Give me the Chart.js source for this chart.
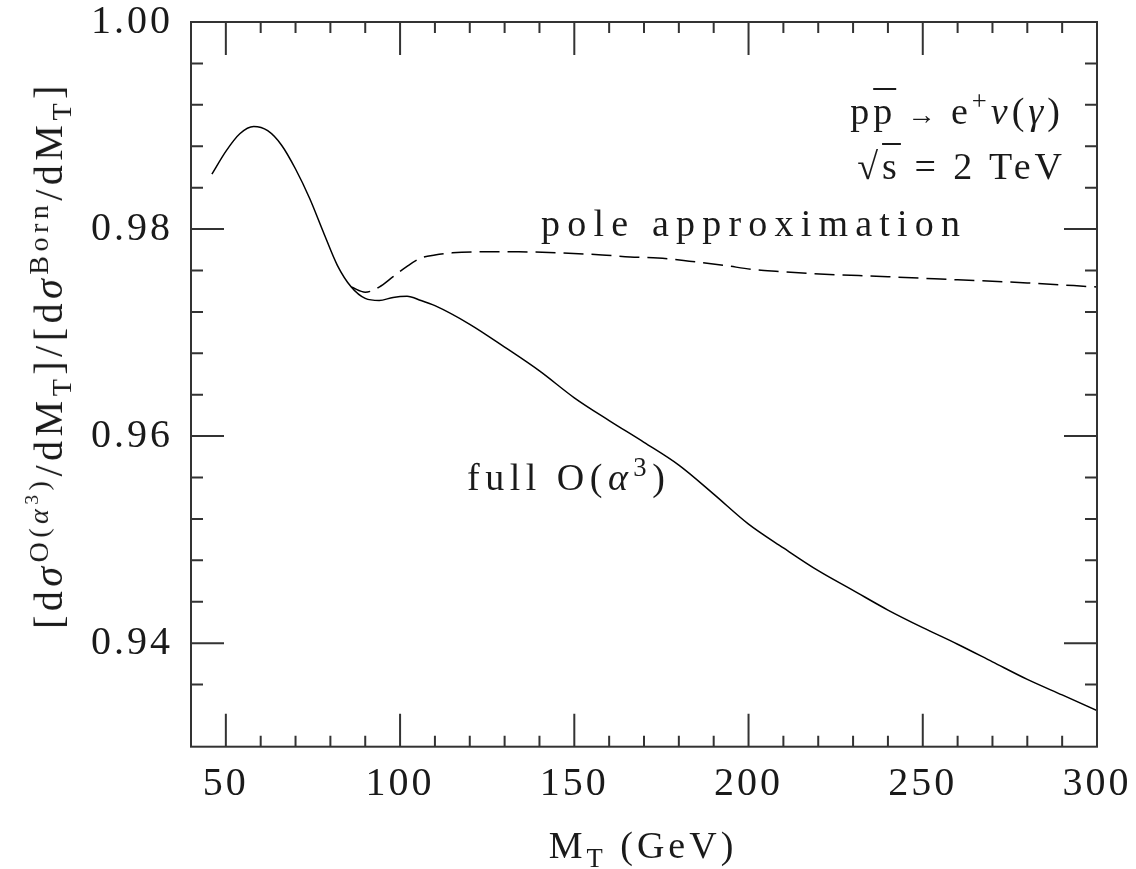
<!DOCTYPE html>
<html>
<head>
<meta charset="utf-8">
<script src="https://cdn.jsdelivr.net/npm/chart.js@4.4.1/dist/chart.umd.min.js"></script>
<style>
  body { margin: 0; background: #fff; }
  #wrap { position: relative; width: 1136px; height: 869px; overflow: hidden; }
  canvas { position: absolute; left: 0; top: 0; }
  .lbl { position: absolute; font-family: "Liberation Serif", serif; color: #1a1a1a; white-space: nowrap; line-height: 1; }
  .lbl sup, .lbl sub { font-size: 0.7em; line-height: 0; }
  .bar { text-decoration: overline; text-decoration-thickness: 1.5px; }
</style>
</head>
<body>
<div id="wrap">
  <canvas id="chart" width="1136" height="869"></canvas>
  <div class="lbl" id="proc" style="right:72px; top:92px; font-size:38px; letter-spacing:4px;">p<span class="bar">p</span><span style="font-size:0.75em"> → </span>e<sup>+</sup><i>ν</i>(<i>γ</i>)</div>
  <div class="lbl" id="energy" style="right:70px; top:147px; font-size:38px; letter-spacing:4px;">√<span class="bar">s</span> = 2 TeV</div>
  <div class="lbl" id="pole" style="left:541px; top:204px; font-size:38px; letter-spacing:7.2px;">pole approximation</div>
  <div class="lbl" id="full" style="left:467px; top:458px; font-size:38px; letter-spacing:5.5px;">full O(<i>α</i><sup>3</sup>)</div>
  <div class="lbl" id="xtitle" style="left:643px; top:845px; font-size:38px; letter-spacing:4px; transform:translate(-50%,-50%);">M<sub>T</sub> (GeV)</div>
  <div class="lbl" id="ytitle" style="left:49px; top:355px; font-size:40px; letter-spacing:4.5px; transform:translate(-50%,-50%) rotate(-90deg);">[d<i>σ</i><sup>O(<i>α</i><sup>3</sup>)</sup>/dM<sub>T</sub>]/[d<i>σ</i><sup>Born</sup>/dM<sub>T</sub>]</div>
</div>
<script>
// ratio of O(alpha^3) to Born transverse mass distribution
const mtFull = [46, 50, 54, 58, 62, 66, 70, 74, 78, 82, 86, 90, 94, 98, 102, 106, 110,
  120, 130, 140, 150, 160, 170, 180, 190, 200, 210, 220, 230, 240, 250, 260, 270, 280, 290, 300];
const ratioFull = [0.9853, 0.9875, 0.9892, 0.9899, 0.9895, 0.9881, 0.9858, 0.9830, 0.9797,
  0.9765, 0.9744, 0.9733, 0.9731, 0.9734, 0.9735, 0.9731, 0.9726,
  0.9708, 0.9686, 0.9663, 0.9637, 0.9615, 0.9594, 0.9572, 0.9544, 0.9515, 0.9492,
  0.9470, 0.9451, 0.9432, 0.9415, 0.9399, 0.9382, 0.9365, 0.9350, 0.9335];

// pole approximation (dashed)
const mtPole = [86, 90, 94, 98, 102, 106, 110, 115, 124, 134, 146, 158, 166, 174, 183,
  193, 201, 209, 218, 240, 260, 280, 300];
const ratioPole = [0.9744, 0.9739, 0.9744, 0.9754, 0.9764, 0.9772, 0.9775, 0.9777, 0.9778,
  0.9778, 0.9777, 0.9775, 0.9773, 0.9772, 0.9769, 0.9765, 0.9761, 0.9759, 0.9757,
  0.9754, 0.9751, 0.9748, 0.9744];

const xMin = 40, xMax = 300, xStep = 10, xMajor = 50;
const yMin = 0.93, yMax = 1.0, yStep = 0.004, yMajor = 0.02;

const ink = "#1a1a1a";
const fontFamily = "'Liberation Serif', serif";

const toPoints = (xs, ys) => xs.map((x, i) => ({ x: x, y: ys[i] }));

// box around the plot + ticks pointing inwards on all four sides
const frame = {
  id: "frame",
  beforeDraw(chart) {
    chart.ctx.letterSpacing = "3px";
  },
  afterDraw(chart) {
    const { ctx, chartArea: a, scales: { x, y } } = chart;
    ctx.save();
    ctx.letterSpacing = "0px";
    ctx.strokeStyle = "#333";
    ctx.lineWidth = 2;
    ctx.beginPath();
    x.ticks.forEach(t => {
      if (t.value <= xMin || t.value >= xMax) return;
      const px = x.getPixelForValue(t.value);
      const len = t.value % xMajor === 0 ? 33 : 11;
      ctx.moveTo(px, a.bottom); ctx.lineTo(px, a.bottom - len);
      ctx.moveTo(px, a.top); ctx.lineTo(px, a.top + len);
    });
    y.ticks.forEach(t => {
      if (t.value <= yMin || t.value >= yMax) return;
      const py = y.getPixelForValue(t.value);
      const k = Math.round(t.value * 1000);
      const len = k % Math.round(yMajor * 1000) === 0 ? 33 : 12;
      ctx.moveTo(a.left, py); ctx.lineTo(a.left + len, py);
      ctx.moveTo(a.right, py); ctx.lineTo(a.right - len, py);
    });
    ctx.stroke();
    ctx.strokeRect(a.left, a.top, a.right - a.left, a.bottom - a.top);
    ctx.restore();
  }
};

new Chart(document.getElementById("chart"), {
  type: "line",
  data: {
    datasets: [
      {
        label: "full O(α³)",
        data: toPoints(mtFull, ratioFull),
        borderColor: "#000",
        borderWidth: 1.5,
        pointRadius: 0,
        cubicInterpolationMode: "monotone",
        fill: false
      },
      {
        label: "pole approximation",
        data: toPoints(mtPole, ratioPole),
        borderColor: "#000",
        borderWidth: 1.5,
        borderDash: [20, 8],
        pointRadius: 0,
        cubicInterpolationMode: "monotone",
        fill: false
      }
    ]
  },
  options: {
    responsive: false,
    animation: false,
    devicePixelRatio: 1,
    layout: { padding: { top: 22, right: 39, left: 0, bottom: 0 } },
    plugins: {
      legend: { display: false },
      tooltip: { enabled: false },
      title: { display: false }
    },
    scales: {
      x: {
        type: "linear",
        min: xMin,
        max: xMax,
        afterFit: s => {
          s.height = 122.3;
          s.paddingLeft = 0;
          s.paddingRight = 0;
        },
        grid: { drawOnChartArea: false, drawTicks: false },
        border: { display: false },
        ticks: {
          stepSize: xStep,
          autoSkip: false,
          maxRotation: 0,
          padding: 14,
          color: ink,
          font: { family: fontFamily, size: 40 },
          callback: v => (v % xMajor === 0 ? String(v) : "")
        }
      },
      y: {
        type: "linear",
        min: yMin,
        max: yMax,
        afterFit: s => {
          s.width = 191;
          s.paddingTop = 0;
          s.paddingBottom = 0;
        },
        grid: { drawOnChartArea: false, drawTicks: false },
        border: { display: false },
        ticks: {
          stepSize: yStep,
          autoSkip: false,
          padding: 18,
          color: ink,
          font: { family: fontFamily, size: 40 },
          callback: v => {
            const k = Math.round(v * 1000);
            return k % 20 === 0 && k >= 940 ? v.toFixed(2) : "";
          }
        }
      }
    }
  },
  plugins: [frame]
});
</script>
</body>
</html>
